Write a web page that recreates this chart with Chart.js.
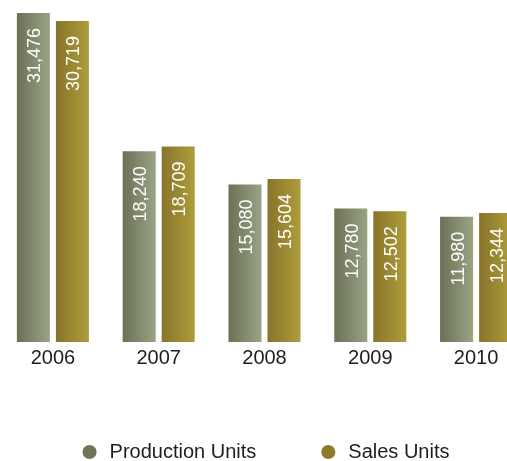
<!DOCTYPE html>
<html>
<head>
<meta charset="utf-8">
<script src="https://cdn.jsdelivr.net/npm/chart.js@4/dist/chart.umd.min.js"></script>
<style>
  html, body { margin: 0; padding: 0; background: #fff; overflow: hidden; }
  #wrap { width: 529px; height: 461px; }
</style>
</head>
<body>
<div id="wrap"><canvas id="units"></canvas></div>
<script>
// yearly production vs. sales, units
const years = ["2006", "2007", "2008", "2009", "2010"];
const productionUnits = [31476, 18240, 15080, 12780, 11980];
const salesUnits = [30719, 18709, 15604, 12502, 12344];

const CAT_PCT = 0.7376;
const BAR_PCT = 0.846;

// shade pairs for each series: dark left edge -> light right edge
const shades = [
  { dark: "#6a7155", light: "#9ba385", flat: "#6e7659" },
  { dark: "#88742a", light: "#ae9d3b", flat: "#8f7a2a" }
];

// each bar gets its own left-to-right gradient, worked out from the x scale
function barFill(ctx) {
  const chart = ctx.chart;
  const shade = shades[ctx.datasetIndex];
  const x = chart.scales.x;
  if (ctx.type !== "data" || !x || !chart.chartArea) return shade.flat;
  const catW = (x.right - x.left) / years.length;
  const chunk = catW * CAT_PCT / 2;
  const mid = x.getPixelForValue(ctx.dataIndex) + (ctx.datasetIndex === 0 ? -chunk / 2 : chunk / 2);
  const half = chunk * BAR_PCT / 2;
  const g = chart.ctx.createLinearGradient(mid - half, 0, mid + half, 0);
  g.addColorStop(0, shade.dark);
  g.addColorStop(1, shade.light);
  return g;
}

// rotated white value text near the top of every bar
const barValues = {
  id: "barValues",
  afterDatasetsDraw(chart) {
    const c = chart.ctx;
    chart.data.datasets.forEach((ds, di) => {
      chart.getDatasetMeta(di).data.forEach((bar, i) => {
        c.save();
        c.translate(bar.x + 1, bar.y + 15);
        c.rotate(-Math.PI / 2);
        c.font = "18px 'Liberation Sans', Arial, sans-serif";
        c.fillStyle = "#ffffff";
        c.textAlign = "right";
        c.textBaseline = "middle";
        c.fillText(ds.data[i].toLocaleString("en-US"), 0, 1);
        c.restore();
      });
    });
  }
};

new Chart(document.getElementById("units"), {
  type: "bar",
  data: {
    labels: years,
    datasets: [
      { label: "Production Units", data: productionUnits, backgroundColor: barFill },
      { label: "Sales Units", data: salesUnits, backgroundColor: barFill }
    ]
  },
  options: {
    responsive: true,
    maintainAspectRatio: false,
    animation: false,
    categoryPercentage: CAT_PCT,
    barPercentage: BAR_PCT,
    borderWidth: 0,
    layout: { padding: { top: 13, left: 0, right: 0, bottom: 0 } },
    scales: {
      x: {
        grid: { display: false, drawTicks: false },
        border: { display: false },
        ticks: {
          color: "#1e1e1e",
          padding: 4,
          font: { family: "'Liberation Sans', Arial, sans-serif", size: 20 }
        },
        afterFit(scale) { scale.height = 38; }
      },
      y: { display: false, min: 0, max: 31476 }
    },
    plugins: {
      tooltip: { enabled: false },
      legend: {
        position: "bottom",
        maxHeight: 81,
        labels: {
          usePointStyle: true,
          pointStyle: "circle",
          boxWidth: 20,
          boxHeight: 10,
          padding: 62,
          color: "#1e1e1e",
          font: { family: "'Liberation Sans', Arial, sans-serif", size: 20 },
          generateLabels(chart) {
            const items = Chart.defaults.plugins.legend.labels.generateLabels(chart);
            items.forEach((it, i) => {
              it.fillStyle = shades[i].flat;
              it.strokeStyle = shades[i].flat;
              it.lineWidth = 0;
            });
            return items;
          }
        }
      }
    }
  },
  plugins: [barValues]
});
</script>
</body>
</html>
